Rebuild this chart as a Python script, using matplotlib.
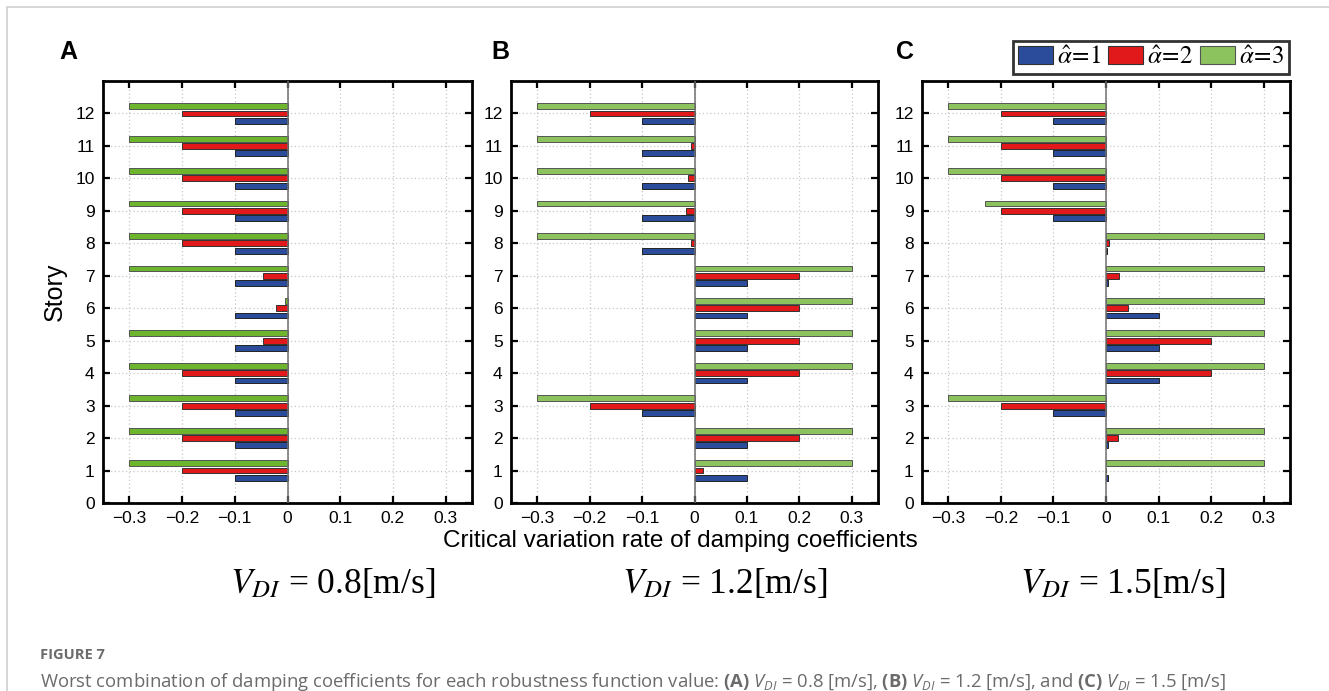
import numpy as np
import matplotlib.pyplot as plt
from matplotlib.patches import Patch, Rectangle

plt.rcParams['font.family'] = ['Liberation Sans', 'DejaVu Sans']
plt.rcParams['mathtext.fontset'] = 'custom'
plt.rcParams['mathtext.rm'] = 'Open Sans'
plt.rcParams['mathtext.it'] = 'Open Sans:italic'
plt.rcParams['mathtext.bf'] = 'Open Sans:bold'

# Pisos y tasas de variación crítica (alpha = 1, 2, 3) para cada V_DI
stories = np.arange(1, 13)

a_alpha1 = [-0.1] * 12
a_alpha2 = [-0.2, -0.2, -0.2, -0.2, -0.046, -0.022, -0.046, -0.2, -0.2, -0.2, -0.2, -0.2]
a_alpha3 = [-0.3, -0.3, -0.3, -0.3, -0.3, -0.004, -0.3, -0.3, -0.3, -0.3, -0.3, -0.3]

b_alpha1 = [0.1, 0.1, -0.1, 0.1, 0.1, 0.1, 0.1, -0.1, -0.1, -0.1, -0.1, -0.1]
b_alpha2 = [0.017, 0.2, -0.2, 0.2, 0.2, 0.2, 0.2, -0.006, -0.016, -0.012, -0.006, -0.2]
b_alpha3 = [0.3, 0.3, -0.3, 0.3, 0.3, 0.3, 0.3, -0.3, -0.3, -0.3, -0.3, -0.3]

c_alpha1 = [0.004, 0.004, -0.1, 0.1, 0.1, 0.1, 0.004, 0.001, -0.1, -0.1, -0.1, -0.1]
c_alpha2 = [0.0, 0.022, -0.2, 0.2, 0.2, 0.041, 0.024, 0.005, -0.2, -0.2, -0.2, -0.2]
c_alpha3 = [0.3, 0.3, -0.3, 0.3, 0.3, 0.3, 0.3, 0.3, -0.23, -0.3, -0.3, -0.3]

panel_letters = ['A', 'B', 'C']
velocities = ['0.8', '1.2', '1.5']
series_labels = [r'$\hat{\alpha}\!=\!1$', r'$\hat{\alpha}\!=\!2$', r'$\hat{\alpha}\!=\!3$']
xticks = [-0.3, -0.2, -0.1, 0, 0.1, 0.2, 0.3]
xtick_labels = ['\u22120.3', '\u22120.2', '\u22120.1', '0', '0.1', '0.2', '0.3']

blue = '#2b4c9b'
red = '#e2191b'
greens = ['#6cb52d', '#8cc35f', '#8cc35f']

panels = [(a_alpha1, a_alpha2, a_alpha3),
          (b_alpha1, b_alpha2, b_alpha3),
          (c_alpha1, c_alpha2, c_alpha3)]

W, H = 1329, 691
fig = plt.figure(figsize=(W / 100, H / 100), dpi=100)

# marco gris de la figura
fig.add_artist(Rectangle((7 / W, -0.1), 1.2, 1 - 7 / H + 0.1, transform=fig.transFigure,
                         fill=False, edgecolor='#cfcfcf', linewidth=1.2))

lefts = [103, 511, 922]
widths = [369, 367, 368]
letter_x = [68, 500, 905]
bottom = 1 - 503 / H
height = (503 - 81) / H
bh = 0.18
off = 0.225

axes = []
for i, (s1, s2, s3) in enumerate(panels):
    ax = fig.add_axes([lefts[i] / W, bottom, widths[i] / W, height])
    ax.set_axisbelow(True)
    ax.grid(True, linestyle=(0, (1, 2)), color='#c8c8c8', linewidth=0.9)
    ax.barh(stories - off, s1, height=bh, color=blue, edgecolor='#222222', linewidth=0.7, zorder=3)
    ax.barh(stories, s2, height=bh, color=red, edgecolor='#333333', linewidth=0.7, zorder=3)
    ax.barh(stories + off, s3, height=bh, color=greens[i], edgecolor='#555555', linewidth=0.7, zorder=3)
    ax.axvline(0, color='#707070', linewidth=1.1, zorder=4)
    ax.set_xlim(-0.35, 0.35)
    ax.set_ylim(0, 13)
    ax.set_xticks(xticks)
    ax.set_xticklabels(xtick_labels)
    ax.set_yticks(range(0, 13))
    ax.tick_params(direction='in', top=True, right=True, length=5, width=1.6,
                   labelsize=12.5, pad=6, colors='black')
    for sp in ax.spines.values():
        sp.set_linewidth(2)
    fig.text(letter_x[i] / W, 1 - 52 / H, panel_letters[i], fontsize=18,
             fontweight='bold', ha='center', va='center')
    axes.append(ax)

axes[0].set_ylabel('Story', fontsize=18, labelpad=6)

fig.text(680 / W, 1 - 541 / H, 'Critical variation rate of damping coefficients',
         fontsize=17.5, ha='center', va='center')

centers = [333, 725, 1123]
for cx, v in zip(centers, velocities):
    fig.text(cx / W, 1 - 584 / H, r'$V_{DI}$ = ' + v + '[m/s]', fontsize=25.5,
             ha='center', va='center', family='Liberation Serif', math_fontfamily='stix')

handles = [Patch(facecolor=blue, edgecolor='#333333', linewidth=0.8),
           Patch(facecolor=red, edgecolor='#333333', linewidth=0.8),
           Patch(facecolor=greens[2], edgecolor='#555555', linewidth=0.8)]
leg = fig.legend(handles, series_labels, loc='upper right', ncol=3,
                 bbox_to_anchor=(1289 / W, 1 - 41 / H), frameon=True, fancybox=False,
                 edgecolor='black', handlelength=1.4, handleheight=0.75, handletextpad=0.15,
                 columnspacing=0.3, borderpad=0.2, borderaxespad=0,
                 prop={'family': 'Liberation Serif', 'size': 18, 'math_fontfamily': 'stix'})
leg.get_frame().set_linewidth(2)

fig.text(40 / W, 1 - 655 / H, 'FIGURE 7', fontsize=10.5, fontweight='bold',
         color='#6b6b6b', family='Open Sans', ha='left', va='center')
caption = ('Worst combination of damping coefficients for each robustness function value: '
           r'$\mathbf{(A)}$ $V_{DI}$ = 0.8 [m/s], $\mathbf{(B)}$ $V_{DI}$ = 1.2 [m/s], '
           r'and $\mathbf{(C)}$ $V_{DI}$ = 1.5 [m/s]')
fig.text(40 / W, 1 - 682 / H, caption, fontsize=13.3, color='#6b6b6b',
         family='Open Sans', ha='left', va='center')

fig.savefig('out.png', dpi=100)
